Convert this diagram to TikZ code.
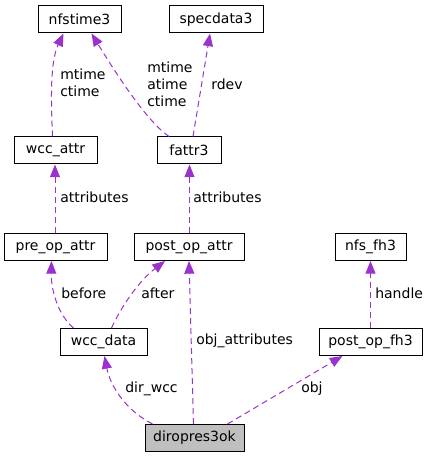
\documentclass[tikz,border=0pt]{standalone}
\usepackage{fontspec}
\setmainfont{DejaVu Sans}
\usetikzlibrary{arrows.meta,calc}

\definecolor{edgepurple}{HTML}{9A32CD}
\definecolor{rootgray}{HTML}{BFBFBF}
\newcommand{\px}{0.75pt}

\tikzset{
    classbox/.style={
        draw=black,
        line width=0.75pt,
        inner sep=0pt,
        minimum height=27*\px,
        font=\fontsize{10.5}{12.75}\selectfont
    },
    relation/.style={
        ->, >={Triangle[length=9.5pt,width=7.5pt]},
        draw=edgepurple,
        line width=0.75pt,
        dash pattern=on 4.5pt off 3pt
    },
    edgelabel/.style={
        anchor=west,
        inner sep=0pt,
        align=left,
        font=\fontsize{10.5}{12.75}\selectfont
    }
}

\begin{document}
\begin{tikzpicture}[x=\px, y=-\px]
        % Page frame
        \useasboundingbox (0,0) rectangle (427,459);
        % Classes
        \foreach \name/\text/\x/\y/\w in {
            nfstime3/nfstime3/79.5/19.5/83,
            specdata3/specdata3/216/19.5/94,
            wcc_attr/wcc\_attr/55.5/150.5/83,
            fattr3/fattr3/189/150.5/64,
            pre_op_attr/pre\_op\_attr/55.5/247/103,
            post_op_attr/post\_op\_attr/189/247/110,
            nfs_fh3/nfs\_fh3/370.5/247/71,
            wcc_data/wcc\_data/103.5/342/87,
            post_op_fh3/post\_op\_fh3/370.5/342/103} {
            \node[classbox, minimum width=\w*\px] (\name) at (\x,\y) {\text};
        }
        % Root class
        \node[classbox, fill=rootgray, minimum width=99*\px] (diropres3ok) at (194.5,438) {diropres3ok};
        % Members of wcc_attr and fattr3
        \draw[relation] ($(wcc_attr.north)+(-3,0)$)
            .. controls (51,100) and (50,62) .. ($(nfstime3.south)+(-16,0)$);
        \draw[relation] ($(fattr3.north)+(-20,0)$)
            .. controls (148,122) and (120,80) .. ($(nfstime3.south)+(12,0)$);
        \draw[relation] ($(fattr3.north)+(4,0)$) -- ($(specdata3.south)+(-6,0)$);
        % Attributes
        \draw[relation] ($(pre_op_attr.north)+(-0.5,0)$) -- ($(wcc_attr.south)+(-0.5,0)$);
        \draw[relation] ($(post_op_attr.north)+(0.5,0)$) -- ($(fattr3.south)+(0.5,0)$);
        % Members of wcc_data
        \draw[relation] ($(wcc_data.north)+(-30,0)$)
            .. controls (58,315) and (51,290) .. ($(pre_op_attr.south)+(-4,0)$);
        \draw[relation] ($(wcc_data.north)+(8,0)$)
            .. controls (122,305) and (140,280) .. ($(post_op_attr.south)+(-24,0)$);
        % Handle
        \draw[relation] (post_op_fh3.north) -- (nfs_fh3.south);
        % Members of diropres3ok
        \draw[relation] ($(diropres3ok.north)+(-42,0)$)
            .. controls (125,410) and (110,385) .. ($(wcc_data.south)+(1,0)$);
        \draw[relation] ($(diropres3ok.north)+(-1,0)$) -- (post_op_attr.south);
        \draw[relation] ($(diropres3ok.north)+(33,0)$) -- ($(post_op_fh3.south)+(-28,0)$);
        % Labels
        \node[edgelabel] (lbl-wcctime) at (60,83) {mtime\\ctime};
        \node[edgelabel] (lbl-fattrtime) at (147,84) {mtime\\atime\\ctime};
        \node[edgelabel] (lbl-rdev) at (211,84) {rdev};
        \node[edgelabel] (lbl-wccattr) at (60,197) {attributes};
        \node[edgelabel] (lbl-fattr) at (193,197) {attributes};
        \node[edgelabel] (lbl-before) at (61,293) {before};
        \node[edgelabel] (lbl-after) at (141,293) {after};
        \node[edgelabel] (lbl-objattr) at (196,341) {obj\_attributes};
        \node[edgelabel] (lbl-handle) at (375,293) {handle};
        \node[edgelabel] (lbl-dirwcc) at (125,389) {dir\_wcc};
        \node[edgelabel] (lbl-obj) at (301,389) {obj};
    \end{tikzpicture}
\end{document}
